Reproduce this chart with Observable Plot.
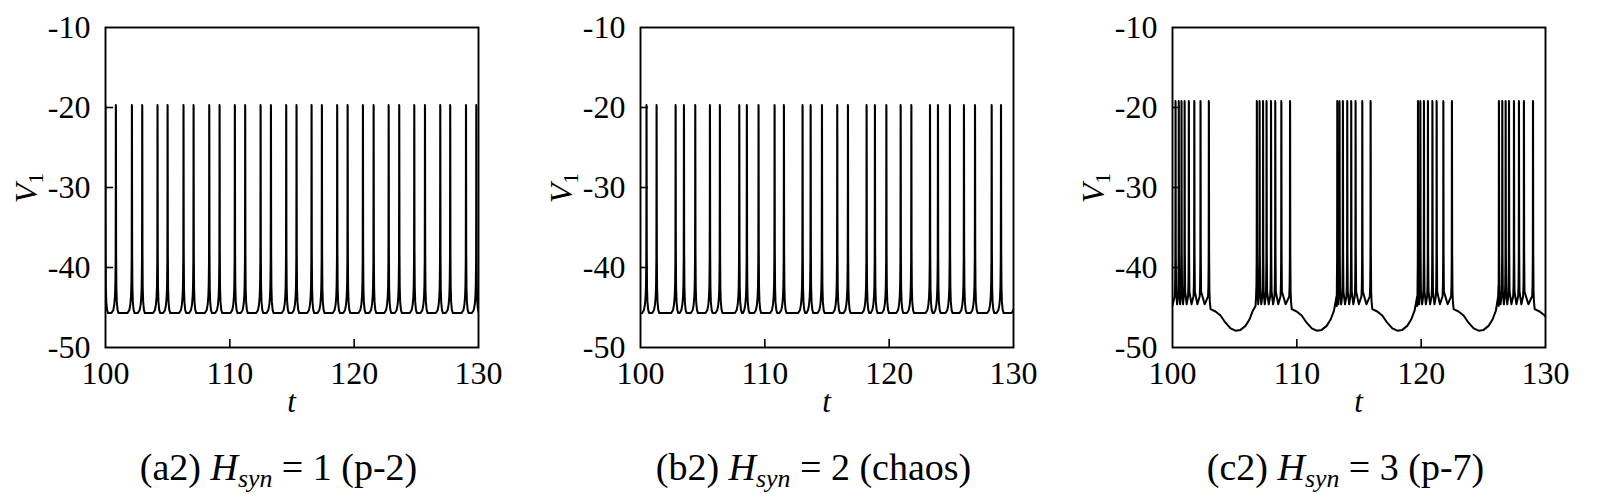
<!DOCTYPE html>
<html><head><meta charset="utf-8">
<script src="https://cdn.jsdelivr.net/npm/d3@7"></script>
<script src="https://cdn.jsdelivr.net/npm/@observablehq/plot@0.6"></script>
<style>
body{margin:0;background:#fff;width:1600px;height:503px;position:relative;overflow:hidden;font-family:"Liberation Serif","Times New Roman",serif;color:#000;}
.panel{position:absolute;top:0;}
.ylab{position:absolute;font-size:32px;white-space:nowrap;line-height:32px;transform:translate(-50%,-50%) rotate(-90deg);}
.xlab{position:absolute;font-size:31px;font-style:italic;line-height:31px;transform:translateX(-50%);}
.cap{position:absolute;font-size:38px;line-height:38px;white-space:nowrap;transform:translateX(-50%);}
sub{font-size:0.68em;vertical-align:-0.28em;line-height:0;}
</style></head><body>
<script>
// ---- data ----
const captionIds = ["(a2)", "(b2)", "(c2)"];
const hsynValues = [1, 2, 3];
const regimes = ["(p-2)", "(chaos)", "(p-7)"];
const xTicks = [100, 110, 120, 130];
const yTicks = [-10, -20, -30, -40, -50];

// spike times, panel (a2)
const spikesA = [99.985, 100.83, 102.12, 102.95, 104.18, 104.99, 106.27, 107.08, 108.34, 109.17, 110.40, 111.23,
  112.47, 113.30, 114.53, 115.36, 116.57, 117.40, 118.63, 119.47, 120.70, 121.56, 122.77, 123.62,
  124.83, 125.69, 126.92, 127.72, 128.99, 129.82];
// spike times, panel (b2)
const spikesB = [100.48, 101.29, 102.82, 103.49, 104.40, 105.58, 106.38, 107.94, 108.55, 109.49, 110.78, 111.53,
  113.03, 113.68, 114.59, 115.82, 116.68, 118.18, 118.85, 119.77, 120.92, 121.78, 123.28, 123.92,
  124.88, 126.01, 126.90, 128.24, 128.99, 130.2];
// burst spike times, panel (c2)
const burst1C = [100.24, 100.50, 100.72, 100.97, 101.31, 101.75, 102.25, 102.92];
const burst2C = [106.78, 107.00, 107.28, 107.56, 107.92, 108.26, 108.75, 109.45];
const burst3C = [113.25, 113.43, 113.70, 114.05, 114.37, 114.72, 115.26, 115.93];
const burst4C = [119.74, 119.93, 120.22, 120.54, 120.90, 121.24, 121.78, 122.47];
const burst5C = [126.25, 126.52, 126.79, 127.06, 127.46, 127.86, 128.26, 128.99];
const startC = {t: 99.9, v: -45.3};

// spike waveform (time offset from spike, voltage)
const tonicOffsets = [-0.35, -0.2, -0.12, -0.07, -0.04, -0.015, -0.005, 0, 0.01, 0.025, 0.045, 0.08, 0.14, 0.22];
const tonicVolts   = [-45.7, -45.3, -44.6, -43.6, -42.3, -39, -30, -19.7, -19.9, -38, -42.5, -44.3, -45.3, -45.7];
const tonicBase = -45.7;
const burstOffsets = [-0.06, -0.03, -0.012, -0.004, 0, 0.01, 0.025, 0.05];
const burstVolts   = [-43.6, -42.2, -39, -30, -19.2, -19.4, -38, -43.0];
const burstTrough = -44.6;
// after-burst hyperpolarisation (offset from last spike of a burst, voltage)
const hypOffsets = [0.08, 0.14, 0.54, 0.94, 1.34, 1.75, 2.15, 2.55, 2.95, 3.27, 3.54, 3.76];
const hypVolts   = [-44.2, -45.2, -45.5, -46.0, -46.9, -47.6, -47.9, -47.8, -47.3, -46.5, -45.4, -44.8];

function spikeTrace(spikes, offs, volts, gapV) {
  const pts = [];
  spikes.forEach((s, i) => {
    const lo = i > 0 ? (spikes[i - 1] + s) / 2 : -Infinity;
    const hi = i < spikes.length - 1 ? (s + spikes[i + 1]) / 2 : Infinity;
    offs.forEach((d, j) => { const t = s + d; if (t > lo && t < hi) pts.push({t, v: volts[j]}); });
    if (i < spikes.length - 1) pts.push({t: hi, v: gapV});
  });
  return pts;
}
const traceA = spikeTrace(spikesA, tonicOffsets, tonicVolts, tonicBase).sort((a, b) => a.t - b.t);
const traceB = spikeTrace(spikesB, tonicOffsets, tonicVolts, tonicBase).sort((a, b) => a.t - b.t);
const traceC = [startC];
[burst1C, burst2C, burst3C, burst4C, burst5C].forEach(b => {
  const last = b[b.length - 1];
  traceC.push(...spikeTrace(b, burstOffsets, burstVolts, burstTrough).filter(p => p.t <= last + 0.05));
  hypOffsets.forEach((d, j) => traceC.push({t: last + d, v: hypVolts[j]}));
});
traceC.sort((a, b) => a.t - b.t);
const traces = [traceA, traceB, traceC];

// ---- layout ----
const frameLeft = [105, 640, 1172];
const mL = 105, mR = 30, mT = 27, mB = 75, frameW = 373, frameH = 320;

traces.forEach((data, k) => {
  const chart = Plot.plot({
    width: mL + frameW + mR, height: mT + frameH + mB,
    marginLeft: mL, marginRight: mR, marginTop: mT, marginBottom: mB,
    x: {domain: [100, 130]},
    y: {domain: [-50, -10]},
    style: {fontFamily: "'Liberation Serif', 'Times New Roman', serif", fontSize: "32px", color: "#000", background: "transparent", overflow: "visible"},
    marks: [
      Plot.line(data, {x: "t", y: "v", stroke: "#000", strokeWidth: 2, clip: true}),
      Plot.ruleX([110, 120], {y1: -50, y2: -49, stroke: "#000", strokeWidth: 1.6}),
      Plot.ruleY([-20, -30, -40], {x1: 100, x2: 100.65, stroke: "#000", strokeWidth: 1.6}),
      Plot.frame({stroke: "#000", strokeWidth: 1.9}),
      Plot.axisX({ticks: xTicks, tickSize: 0, tickPadding: 14, label: null, fontSize: 32}),
      Plot.axisY({ticks: yTicks, tickSize: 0, tickPadding: 15, label: null, fontSize: 32, tickFormat: d => String(d)})
    ]
  });
  const wrap = document.createElement("div");
  wrap.className = "panel";
  wrap.style.left = (frameLeft[k] - mL) + "px";
  wrap.appendChild(chart);
  document.body.appendChild(wrap);

  const yl = document.createElement("div");
  yl.className = "ylab";
  yl.style.left = (frameLeft[k] - 79) + "px";
  yl.style.top = "188px";
  yl.innerHTML = "<i>V</i><sub>1</sub>";
  document.body.appendChild(yl);

  const xl = document.createElement("div");
  xl.className = "xlab";
  xl.style.left = (frameLeft[k] + frameW / 2) + "px";
  xl.style.top = "386px";
  xl.textContent = "t";
  document.body.appendChild(xl);

  const cap = document.createElement("div");
  cap.className = "cap";
  cap.style.left = (frameLeft[k] + frameW / 2 - 13) + "px";
  cap.style.top = "448px";
  cap.innerHTML = `${captionIds[k]} <i>H</i><sub><i>syn</i></sub> = ${hsynValues[k]} ${regimes[k]}`;
  document.body.appendChild(cap);
});
</script>
</body></html>
